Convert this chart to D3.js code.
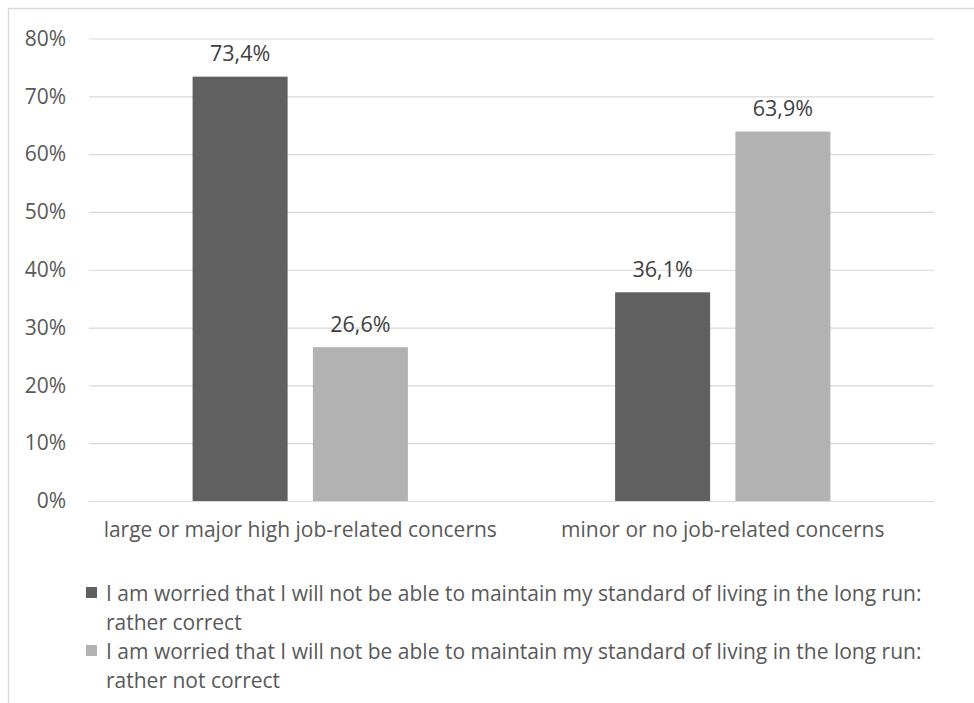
<!DOCTYPE html>
<html>
<head>
<meta charset="utf-8">
<script src="https://cdn.jsdelivr.net/npm/d3@7"></script>
<style>
  html, body { margin: 0; padding: 0; background: #fff; }
  svg { display: block; }
  text { font-family: "Open Sans", "Noto Sans", sans-serif; }
</style>
</head>
<body>
<svg id="chart" width="974" height="703"></svg>
<script>
// ---- data ----
const categories = ["large or major high job-related concerns", "minor or no job-related concerns"];
const seriesNames = [
  "I am worried that I will not be able to maintain my standard of living in the long run: rather correct",
  "I am worried that I will not be able to maintain my standard of living in the long run: rather not correct"
];
const ratherCorrect = [0.734, 0.361];
const ratherNotCorrect = [0.266, 0.639];
const yTicks = [0, 0.1, 0.2, 0.3, 0.4, 0.5, 0.6, 0.7, 0.8];
const seriesColors = ["#606060", "#b2b2b2"];

const seriesValues = [ratherCorrect, ratherNotCorrect];
const rows = categories.map((c, i) => ({ category: c, values: seriesValues.map((s, k) => ({ key: k, value: s[i] })) }));

const svg = d3.select("#chart");
const W = 974, H = 703;
const plot = { left: 89, right: 934, top: 38.5, bottom: 501 };
const textColor = "#595959";
const gridColor = "#d9d9d9";
const fs = "21px";

// border (chart area frame, cropped at right/bottom)
svg.append("line").attr("x1", 8).attr("x2", W).attr("y1", 8.5).attr("y2", 8.5)
  .attr("stroke", gridColor).attr("stroke-width", 1.3);
svg.append("line").attr("x1", 8.5).attr("x2", 8.5).attr("y1", 8).attr("y2", H)
  .attr("stroke", gridColor).attr("stroke-width", 1.3);

const y = d3.scaleLinear().domain([0, 0.8]).range([plot.bottom, plot.top]);
const x0 = d3.scaleBand().domain(categories).range([plot.left, plot.right])
  .paddingInner(0.4904).paddingOuter(0.2452);
const x1 = d3.scaleBand().domain([0, 1]).range([0, x0.bandwidth()]).paddingInner(0.21).paddingOuter(0);

const pctFmt = d3.formatLocale({ decimal: ",", thousands: ".", grouping: [3], currency: ["", "€"] });
const fmtLabel = pctFmt.format(".1%");
const fmtTick = d3.format(".0%");

// gridlines + y labels via axis
const yAxis = d3.axisLeft(y).tickValues(yTicks).tickFormat(fmtTick)
  .tickSize(-(plot.right - plot.left)).tickPadding(23);
const gy = svg.append("g").attr("transform", `translate(${plot.left},0)`).call(yAxis);
gy.select(".domain").remove();
gy.selectAll(".tick line").attr("stroke", gridColor).attr("stroke-width", 1.2);
gy.selectAll(".tick text").attr("fill", textColor).style("font-size", fs)
  .style("font-family", '"Open Sans", sans-serif');

// bars
const groups = svg.append("g").selectAll("g").data(rows).join("g")
  .attr("transform", d => `translate(${x0(d.category)},0)`);
groups.selectAll("rect").data(d => d.values).join("rect")
  .attr("x", d => x1(d.key))
  .attr("width", x1.bandwidth())
  .attr("y", d => y(d.value))
  .attr("height", d => y(0) - y(d.value))
  .attr("fill", d => seriesColors[d.key]);

// data labels
groups.selectAll("text.val").data(d => d.values).join("text")
  .attr("class", "val")
  .attr("x", d => x1(d.key) + x1.bandwidth() / 2)
  .attr("y", d => y(d.value) - 24)
  .attr("text-anchor", "middle")
  .attr("dominant-baseline", "central")
  .attr("fill", "#404040")
  .style("font-size", "21.5px")
  .text(d => fmtLabel(d.value));

// category axis labels
const xAxis = d3.axisBottom(x0).tickSize(0).tickPadding(21);
const gx = svg.append("g").attr("transform", `translate(0,${plot.bottom})`).call(xAxis);
gx.select(".domain").remove();
gx.selectAll(".tick text").attr("fill", textColor).style("font-size", fs)
  .style("font-family", '"Open Sans", sans-serif');

// legend
const legend = svg.append("g");
const legendTop = 593, lineH = 29;
seriesNames.forEach((name, k) => {
  const idx = name.indexOf(": ");
  const lines = [name.slice(0, idx + 1), name.slice(idx + 2)];
  const baseY = legendTop + k * 2 * lineH;
  legend.append("rect").attr("x", 86).attr("y", baseY - 6).attr("width", 11).attr("height", 11)
    .attr("fill", seriesColors[k]);
  lines.forEach((ln, j) => {
    legend.append("text").attr("x", 106).attr("y", baseY + j * lineH)
      .attr("dominant-baseline", "central").attr("fill", textColor)
      .style("font-size", fs).text(ln);
  });
});
</script>
</body>
</html>
